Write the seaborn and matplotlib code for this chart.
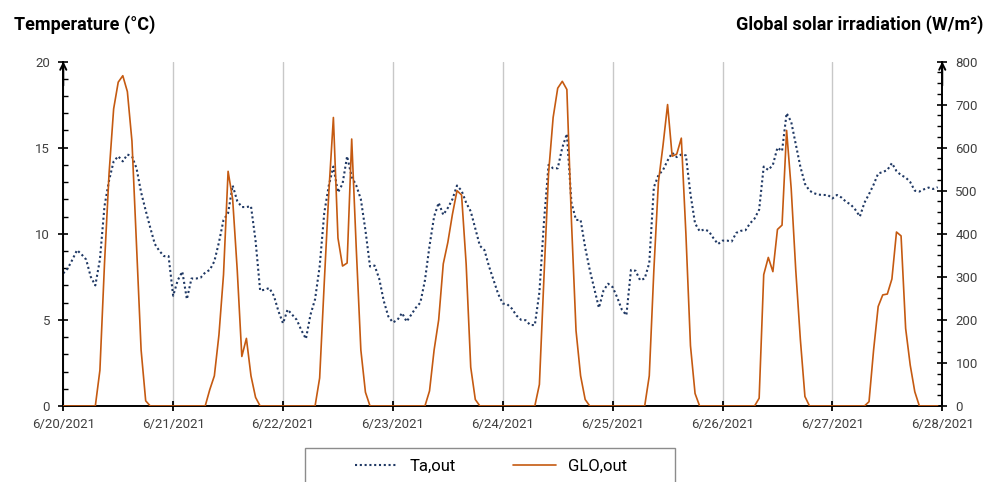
import numpy as np
import pandas as pd
import matplotlib
matplotlib.use("Agg")
import matplotlib.pyplot as plt
from matplotlib.ticker import MultipleLocator
from matplotlib.patches import Rectangle
import seaborn as sns

# Hourly outdoor air temperature (°C), one list per day
ta_0620 = [7.7, 8.0, 8.5, 9.05, 8.8, 8.5, 7.5, 7.0, 8.5, 11.6, 13.1, 14.2,
           14.5, 14.2, 14.6, 14.5, 13.8, 12.4, 11.35, 10.35, 9.4, 9.0, 8.7, 8.7]
ta_0621 = [6.4, 7.3, 7.8, 6.2, 7.4, 7.4, 7.45, 7.75, 7.9, 8.4, 9.5, 10.8,
           11.2, 12.8, 11.9, 11.55, 11.55, 11.6, 9.6, 6.7, 6.75, 6.85, 6.4, 5.5]
ta_0622 = [4.8, 5.6, 5.3, 5.0, 4.4, 3.9, 5.3, 6.2, 8.1, 11.2, 12.8, 13.9,
           12.4, 12.9, 14.5, 13.3, 12.8, 12.0, 10.2, 8.1, 8.15, 7.4, 6.1, 5.2]
ta_0623 = [4.85, 5.0, 5.4, 4.9, 5.3, 5.7, 6.0, 7.3, 9.3, 11.0, 11.8, 11.1,
           11.5, 12.0, 12.8, 12.5, 11.8, 11.3, 10.3, 9.3, 9.05, 8.1, 7.3, 6.5]
ta_0624 = [5.95, 5.9, 5.65, 5.25, 5.0, 4.98, 4.7, 4.7, 6.6, 10.7, 14.0, 13.8,
           13.8, 15.0, 15.8, 11.8, 10.8, 10.8, 9.2, 7.9, 6.8, 5.7, 6.7, 7.1]
ta_0625 = [6.9, 6.3, 5.6, 5.27, 7.9, 7.85, 7.3, 7.4, 8.3, 12.7, 13.4, 13.7,
           14.25, 14.7, 14.45, 14.6, 14.55, 12.3, 10.6, 10.15, 10.25, 10.15, 9.75, 9.4]
ta_0626 = [9.6, 9.6, 9.55, 10.05, 10.17, 10.2, 10.6, 10.88, 11.4, 13.9, 13.7, 14.0,
           15.0, 14.8, 17.0, 16.5, 15.2, 13.9, 12.9, 12.5, 12.35, 12.27, 12.25, 12.25]
ta_0627 = [12.05, 12.25, 12.1, 11.85, 11.7, 11.4, 11.0, 11.8, 12.3, 12.85, 13.5, 13.58,
           13.7, 14.1, 13.64, 13.4, 13.27, 13.0, 12.5, 12.45, 12.58, 12.68, 12.6, 12.7]

# Hourly global solar irradiation (W/m2), one list per day
glo_0620 = [0, 0, 0, 0, 0, 0, 0, 0, 83, 330, 540, 690,
            752, 767, 730, 615, 375, 130, 12, 0, 0, 0, 0, 0]
glo_0621 = [0, 0, 0, 0, 0, 0, 0, 0, 38, 70, 165, 305,
            545, 480, 315, 115, 157, 70, 20, 0, 0, 0, 0, 0]
glo_0622 = [0, 0, 0, 0, 0, 0, 0, 0, 65, 285, 495, 670,
            390, 325, 332, 620, 365, 130, 32, 0, 0, 0, 0, 0]
glo_0623 = [0, 0, 0, 0, 0, 0, 0, 0, 35, 130, 200, 330,
            380, 445, 500, 490, 330, 90, 15, 0, 0, 0, 0, 0]
glo_0624 = [0, 0, 0, 0, 0, 0, 0, 0, 50, 300, 540, 670,
            738, 754, 735, 430, 175, 70, 15, 0, 0, 0, 0, 0]
glo_0625 = [0, 0, 0, 0, 0, 0, 0, 0, 70, 315, 520, 605,
            700, 580, 585, 622, 400, 140, 29, 0, 0, 0, 0, 0]
glo_0626 = [0, 0, 0, 0, 0, 0, 0, 0, 18, 305, 345, 312,
            410, 420, 640, 505, 315, 155, 22, 0, 0, 0, 0, 0]
glo_0627 = [0, 0, 0, 0, 0, 0, 0, 0, 10, 130, 231, 258,
            260, 295, 404, 395, 180, 95, 33, 0, 0, 0, 0, 0]

day_labels = ["6/20/2021", "6/21/2021", "6/22/2021", "6/23/2021", "6/24/2021",
              "6/25/2021", "6/26/2021", "6/27/2021", "6/28/2021"]

ta_series = np.concatenate([ta_0620, ta_0621, ta_0622, ta_0623,
                            ta_0624, ta_0625, ta_0626, ta_0627])
glo_series = np.concatenate([glo_0620, glo_0621, glo_0622, glo_0623,
                             glo_0624, glo_0625, glo_0626, glo_0627])
times = pd.date_range("2021-06-20", periods=len(ta_series), freq="h")
df = pd.DataFrame({"time": times, "Ta,out": ta_series, "GLO,out": glo_series})
day_ticks = pd.date_range("2021-06-20", periods=len(day_labels), freq="D")

sns.set_style("white")
plt.rcParams["font.family"] = ["Roboto", "DejaVu Sans"]

TEMP_COLOR = "#1F3864"
GLO_COLOR = "#C55A11"
TICK_COLOR = "#404040"

fig = plt.figure(figsize=(9.95, 4.82), dpi=100)
ax = fig.add_axes([0.0636, 0.1577, 0.947 - 0.0636, 0.8724 - 0.1577])
ax2 = ax.twinx()

sns.lineplot(data=df, x="time", y="Ta,out", ax=ax, color=TEMP_COLOR,
             linewidth=1.5, linestyle=(0, (1, 1.3)), label="Ta,out", legend=False)
sns.lineplot(data=df, x="time", y="GLO,out", ax=ax2, color=GLO_COLOR,
             linewidth=1.2, label="GLO,out", legend=False,
             solid_joinstyle="round")

ax.set_xlim(day_ticks[0], day_ticks[-1])
ax.set_ylim(0, 20)
ax2.set_ylim(0, 800)
ax.set_xlabel("")
ax.set_ylabel("")
ax2.set_ylabel("")

ax.set_xticks(day_ticks)
ax.set_xticklabels(day_labels)
ax.yaxis.set_major_locator(MultipleLocator(5))
ax.yaxis.set_minor_locator(MultipleLocator(1))
ax2.yaxis.set_major_locator(MultipleLocator(100))
ax2.yaxis.set_minor_locator(MultipleLocator(25))

ax.xaxis.grid(True, color="#C8C8C8", linewidth=1.0)
ax.yaxis.grid(False)
ax2.grid(False)

for a in (ax, ax2):
    for s in a.spines.values():
        s.set_visible(False)
ax.spines["left"].set_visible(True)
ax.spines["bottom"].set_visible(True)
ax2.spines["right"].set_visible(True)
for s in (ax.spines["left"], ax.spines["bottom"], ax2.spines["right"]):
    s.set_color("black")
    s.set_linewidth(1.4)
ax.spines["bottom"].set_zorder(5)

ax.tick_params(axis="x", which="major", direction="inout", length=7, width=1.3,
               color="black", labelcolor=TICK_COLOR, labelsize=9.5, pad=5, bottom=True)
ax.tick_params(axis="y", which="major", direction="inout", length=7, width=1.2,
               color="black", labelcolor=TICK_COLOR, labelsize=9.5, pad=6, left=True)
ax.tick_params(axis="y", which="minor", direction="in", length=3.5, width=1.0,
               color="black", left=True)
ax2.tick_params(axis="y", which="major", direction="inout", length=7, width=1.2,
                color="black", labelcolor=TICK_COLOR, labelsize=9.5, pad=6, right=True)
ax2.tick_params(axis="y", which="minor", direction="in", length=3.5, width=1.0,
                color="black", right=True)

# arrowheads at the top of both value axes
for xpos in (0.0, 1.0):
    ax.annotate("", xy=(xpos, 1.0), xytext=(xpos, 0.93), xycoords="axes fraction",
                arrowprops=dict(arrowstyle="->", color="black", lw=1.4,
                                mutation_scale=11, shrinkA=0, shrinkB=0),
                annotation_clip=False, zorder=6)

fig.text(14 / 995, 1 - 25 / 482, "Temperature (°C)", fontsize=13,
         fontweight="bold", ha="left", va="center", color="black")
fig.text(983 / 995, 1 - 25 / 482, "Global solar irradiation (W/m²)", fontsize=13,
         fontweight="bold", ha="right", va="center", color="black")

# legend below the plot, its frame running off the bottom edge
h1, l1 = ax.get_legend_handles_labels()
h2, l2 = ax2.get_legend_handles_labels()
fig.legend(h1 + h2, l1 + l2, loc="center", ncol=2, frameon=False,
           bbox_to_anchor=(491 / 995, 1 - 466 / 482), fontsize=12,
           handlelength=2.6, handletextpad=0.7, columnspacing=3.4,
           labelcolor="black")
fig.patches.append(Rectangle((305 / 995, -0.05), 370 / 995, 0.05 + (482 - 448) / 482,
                             transform=fig.transFigure, fill=False,
                             edgecolor="#8C8C8C", linewidth=1.0))

fig.savefig("out.png", dpi=100)
